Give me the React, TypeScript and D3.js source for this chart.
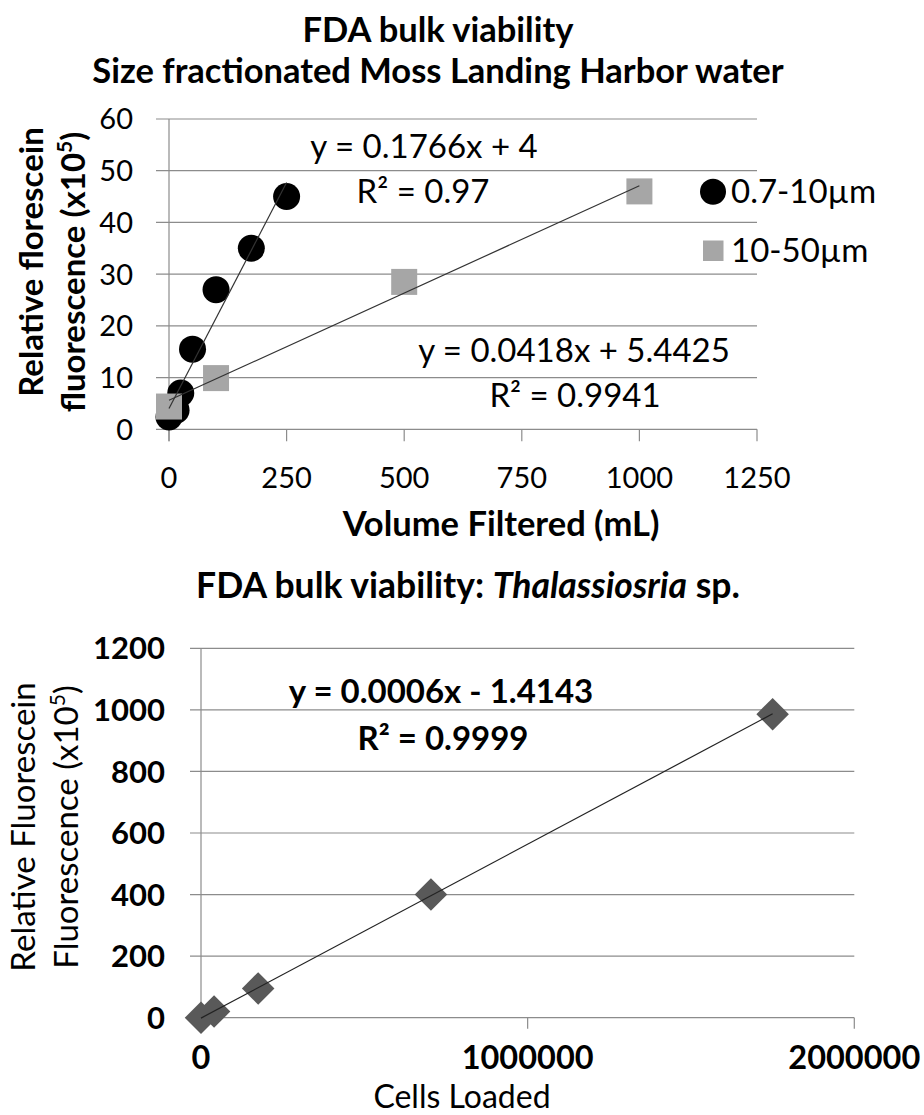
import React from "react";
import * as d3 from "d3";

// top chart: size fractionated harbor water
const smallVolume = [0, 15, 25, 50, 100, 175, 250];
const smallSignal = [2.4, 3.7, 7, 15.5, 27, 35, 45];
const largeVolume = [0, 100, 500, 1000];
const largeSignal = [4.4, 9.9, 28.5, 46];
const topXTicks = [0, 250, 500, 750, 1000, 1250];
const topYTicks = [0, 10, 20, 30, 40, 50, 60];
const legendLabels = ["0.7-10\u00b5m", "10-50\u00b5m"];
const topEquations = ["y = 0.1766x + 4", "R\u00b2 = 0.97", "y = 0.0418x + 5.4425", "R\u00b2 = 0.9941"];

// bottom chart: Thalassiosria culture
const cellsLoaded = [0, 40000, 175000, 704000, 1750000];
const cellSignal = [0, 20, 95, 400, 986];
const bottomXTicks = [0, 1000000, 2000000];
const bottomYTicks = [0, 200, 400, 600, 800, 1000, 1200];
const bottomEquations = ["y = 0.0006x - 1.4143", "R\u00b2 = 0.9999"];

const FONT = "Lato, 'Open Sans', sans-serif";
const GRID = "#8c8c8c";

// least squares line, same as the excel trendline
function fit(xs: number[], ys: number[]) {
  const mx = d3.mean(xs)!;
  const my = d3.mean(ys)!;
  const sxy = d3.sum(xs, (x, i) => (x - mx) * (ys[i] - my));
  const sxx = d3.sum(xs, (x) => (x - mx) ** 2);
  const slope = sxy / sxx;
  return { slope, intercept: my - slope * mx };
}

function TopChart() {
  const x = d3.scaleLinear().domain([0, 1250]).range([169, 757]);
  const y = d3.scaleLinear().domain([0, 60]).range([429.3, 119]);

  const small = fit(smallVolume, smallSignal);
  const large = fit(largeVolume, largeSignal);
  const trend = (f: { slope: number; intercept: number }, xs: number[]) =>
    d3
      .line<number>()
      .x((d) => x(d))
      .y((d) => y(f.slope * d + f.intercept))(d3.extent(xs) as [number, number]);

  return (
    <g fontFamily={FONT}>
      <text x={438} y={42} textAnchor="middle" fontSize={34.5} fontWeight="bold">
        FDA bulk viability
      </text>
      <text x={438} y={83} textAnchor="middle" fontSize={34.5} fontWeight="bold">
        Size fractionated Moss Landing Harbor water
      </text>

      {topYTicks.map((t) => (
        <g key={t}>
          <line x1={x(0) - 13} x2={x(1250)} y1={y(t)} y2={y(t)} stroke={GRID} strokeWidth={1.2} />
          <text x={133} y={y(t)} dy="0.36em" textAnchor="end" fontSize={29}>
            {t}
          </text>
        </g>
      ))}
      <line x1={x(0)} x2={x(0)} y1={y(60)} y2={y(0) + 12} stroke={GRID} strokeWidth={1.2} />
      {topXTicks.map((t) => (
        <g key={t}>
          <line x1={x(t)} x2={x(t)} y1={y(0)} y2={y(0) + 12} stroke={GRID} strokeWidth={1.2} />
          <text x={x(t)} y={488} textAnchor="middle" fontSize={29}>
            {t}
          </text>
        </g>
      ))}

      {smallVolume.map((v, i) => (
        <circle key={i} cx={x(v)} cy={y(smallSignal[i])} r={13.5} fill="#000" />
      ))}
      {largeVolume.map((v, i) => (
        <rect key={i} x={x(v) - 13} y={y(largeSignal[i]) - 13} width={26} height={26} fill="#a6a6a6" />
      ))}
      <path d={trend(small, smallVolume) || ""} stroke="#333" strokeWidth={1.2} fill="none" />
      <path d={trend(large, largeVolume) || ""} stroke="#333" strokeWidth={1.2} fill="none" />

      <text x={424} y={158} textAnchor="middle" fontSize={33}>{topEquations[0]}</text>
      <text x={423} y={203} textAnchor="middle" fontSize={33}>{topEquations[1]}</text>
      <text x={574} y={362} textAnchor="middle" fontSize={33}>{topEquations[2]}</text>
      <text x={575} y={407} textAnchor="middle" fontSize={33}>{topEquations[3]}</text>

      <circle cx={713} cy={191.7} r={13} fill="#000" />
      <text x={731} y={203} fontSize={33}>{legendLabels[0]}</text>
      <rect x={703} y={240.5} width={20.5} height={20.5} fill="#a6a6a6" />
      <text x={731} y={262} fontSize={33}>{legendLabels[1]}</text>

      <g transform="translate(43,262) rotate(-90)">
        <text textAnchor="middle" fontSize={33} fontWeight="bold">Relative florescein</text>
      </g>
      <g transform="translate(85,272) rotate(-90)">
        <text textAnchor="middle" fontSize={33} fontWeight="bold">
          fluorescence (x10<tspan fontSize={21} dy={-13}>5</tspan>
          <tspan dy={13}>)</tspan>
        </text>
      </g>
      <text x={501} y={536} textAnchor="middle" fontSize={34.5} fontWeight="bold">
        Volume Filtered (mL)
      </text>
    </g>
  );
}

function BottomChart() {
  const x = d3.scaleLinear().domain([0, 2000000]).range([201, 854.3]);
  const y = d3.scaleLinear().domain([0, 1200]).range([1017.7, 648.3]);
  const f = fit(cellsLoaded, cellSignal);
  const trend = d3
    .line<number>()
    .x((d) => x(d))
    .y((d) => y(f.slope * d + f.intercept))(d3.extent(cellsLoaded) as [number, number]);

  return (
    <g fontFamily={FONT}>
      <text x={468} y={598} textAnchor="middle" fontSize={35.5} fontWeight="bold">
        FDA bulk viability: <tspan fontStyle="italic">Thalassiosria</tspan> sp.
      </text>

      {bottomYTicks.map((t) => (
        <g key={t}>
          <line x1={x(0) - 11} x2={x(2000000)} y1={y(t)} y2={y(t)} stroke={GRID} strokeWidth={1.2} />
          <text x={165} y={y(t)} dy="0.36em" textAnchor="end" fontSize={31} fontWeight="bold">
            {t}
          </text>
        </g>
      ))}
      <line x1={x(0)} x2={x(0)} y1={y(1200)} y2={y(0) + 11} stroke={GRID} strokeWidth={1.2} />
      {bottomXTicks.map((t) => (
        <g key={t}>
          <line x1={x(t)} x2={x(t)} y1={y(0)} y2={y(0) + 11} stroke={GRID} strokeWidth={1.2} />
          <text x={x(t)} y={1069} textAnchor="middle" fontSize={32.5} fontWeight="bold">
            {t}
          </text>
        </g>
      ))}

      {cellsLoaded.map((c, i) => (
        <rect
          key={i}
          x={-11.5}
          y={-11.5}
          width={23}
          height={23}
          fill="#595959"
          transform={`translate(${x(c)},${y(cellSignal[i])}) rotate(45)`}
        />
      ))}
      <path d={trend || ""} stroke="#222" strokeWidth={1.2} fill="none" />

      <text x={441} y={703} textAnchor="middle" fontSize={33} fontWeight="bold">{bottomEquations[0]}</text>
      <text x={443} y={750} textAnchor="middle" fontSize={33} fontWeight="bold">{bottomEquations[1]}</text>

      <g transform="translate(35,827) rotate(-90)">
        <text textAnchor="middle" fontSize={33}>Relative Fluorescein</text>
      </g>
      <g transform="translate(78,827) rotate(-90)">
        <text textAnchor="middle" fontSize={33}>
          Fluorescence (x10<tspan fontSize={21} dy={-13}>5</tspan>
          <tspan dy={13}>)</tspan>
        </text>
      </g>
      <text x={462} y={1108} textAnchor="middle" fontSize={32}>
        Cells Loaded
      </text>
    </g>
  );
}

export default function App() {
  return (
    <div style={{ position: "absolute", left: 0, top: 0 }}>
      <svg width={924} height={1115} style={{ display: "block", background: "#fff" }}>
        <TopChart />
        <BottomChart />
      </svg>
    </div>
  );
}
